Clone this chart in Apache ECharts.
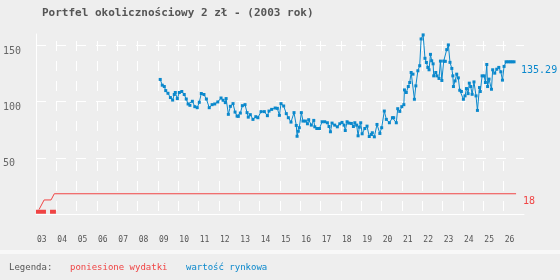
<!DOCTYPE html>
<html>
<head>
<meta charset="utf-8">
<script src="https://cdn.jsdelivr.net/npm/echarts@6/dist/echarts.min.js"></script>
<style>
  html, body { margin: 0; padding: 0; background: #eeeeee; }
  #chart { width: 560px; height: 280px; }
</style>
</head>
<body>
<div id="chart"></div>
<script>
// wartość rynkowa (odczyt z wykresu)
var marketYears = [
  2009.11, 2009.21, 2009.31, 2009.38, 2009.49, 2009.61, 2009.72, 2009.80, 2009.85, 2009.95,
  2010.05, 2010.17, 2010.29, 2010.39, 2010.48, 2010.57, 2010.69, 2010.81, 2010.93,
  2011.03, 2011.13, 2011.26, 2011.38, 2011.52, 2011.66, 2011.79, 2011.94,
  2012.10, 2012.20, 2012.31, 2012.35, 2012.46, 2012.56, 2012.69, 2012.79, 2012.89, 2012.95,
  2013.05, 2013.15, 2013.28, 2013.38, 2013.44, 2013.54, 2013.67, 2013.81, 2013.91,
  2014.07, 2014.23, 2014.38, 2014.46, 2014.59, 2014.76, 2014.87, 2014.97,
  2015.05, 2015.18, 2015.31, 2015.41, 2015.54, 2015.69, 2015.80, 2015.84, 2015.90, 2015.95,
  2016.05, 2016.13, 2016.25, 2016.35, 2016.41, 2016.54, 2016.66, 2016.71, 2016.81, 2016.94,
  2017.07, 2017.20, 2017.33, 2017.41, 2017.48, 2017.56, 2017.69, 2017.82, 2017.94,
  2018.05, 2018.15, 2018.21, 2018.30, 2018.38, 2018.51, 2018.61, 2018.68, 2018.77, 2018.84, 2018.90, 2018.97,
  2019.04, 2019.17, 2019.28, 2019.39, 2019.49, 2019.54, 2019.64, 2019.77, 2019.91,
  2020.00, 2020.13, 2020.23, 2020.38, 2020.53, 2020.59, 2020.72, 2020.79, 2020.89, 2020.99,
  2021.09, 2021.12, 2021.21, 2021.31, 2021.38, 2021.45, 2021.54, 2021.61, 2021.68, 2021.78, 2021.87, 2021.94,
  2022.04, 2022.13, 2022.20, 2022.27, 2022.33, 2022.40, 2022.46, 2022.53, 2022.56, 2022.66, 2022.72, 2022.82, 2022.89, 2022.96,
  2023.05, 2023.13, 2023.20, 2023.28, 2023.36, 2023.45, 2023.50, 2023.53, 2023.61, 2023.69, 2023.77, 2023.84, 2023.92,
  2024.02, 2024.10, 2024.17, 2024.25, 2024.31, 2024.38, 2024.45, 2024.54, 2024.64, 2024.71, 2024.81, 2024.85, 2024.94,
  2025.04, 2025.10, 2025.17, 2025.21, 2025.28, 2025.40, 2025.46, 2025.56, 2025.66, 2025.76, 2025.86, 2025.94,
  2026.02, 2026.12, 2026.22, 2026.32, 2026.41, 2026.51
];
var marketValues = [
  119.6, 114.5, 113.3, 109.7, 107.3, 103.5, 101.3, 106.2, 108, 102.6,
  108, 108.9, 106.2, 102.2, 97.8, 96.6, 100.2, 95.4, 94.5,
  99.3, 107.1, 106.2, 102.2, 94.5, 97.2, 97.8, 99.6,
  103.1, 101.1, 99, 102.6, 88.6, 95.7, 98.1, 90.6, 87, 86.8,
  89.7, 96.3, 97.2, 90.1, 86.1, 88.3, 84.1, 86.5, 85.6,
  91, 91, 87.4, 91.5, 93, 94.2, 93.9, 87.7,
  98.1, 96, 89.2, 85.6, 81.7, 90.1, 78.7, 69.1, 73.6, 76.7,
  90.1, 82.6, 82.6, 80.2, 83.8, 79, 83.2, 77.5, 76, 76,
  82, 82, 81.1, 77.8, 73.1, 80.8, 79, 77.5, 80.2,
  81.4, 79, 74.2, 82, 80.8, 80.5, 77.8, 81.1, 79, 69.5, 77.2, 81.1,
  71.3, 76, 78.1, 68.9, 70.7, 72.2, 68.6, 79.6, 71.6,
  76.7, 91.5, 84.1, 81.1, 85.6, 85.6, 81.1, 93.6, 91.2, 95.4,
  97.2, 110.3, 108, 113.3, 116.9, 125.8, 124.3, 102, 113.9, 127.3, 131.8, 155.6,
  159.2, 138.4, 134.7, 130.3, 128.2, 141.9, 136.2, 133.5, 122.8, 125.8, 122.8, 120.5, 135.9, 118.7,
  135.9, 135.7, 146.1, 150.3, 134.8, 129.4, 122.8, 113.3, 118.3, 124.3, 121, 110, 108.9,
  102, 105, 111.5, 107, 116.3, 113.3, 106.4, 117.4, 105, 92.1, 112.4, 108.9, 122.8,
  122.8, 116.9, 132.9, 113.3, 119.9, 110.9, 128.2, 125.2, 128.7, 130.3, 126.4, 119,
  131.2, 135.29, 135.29, 135.29, 135.29, 135.29
];

// poniesione wydatki
var costYears = [2003.15, 2003.40, 2003.74, 2003.90, 2026.61];
var costValues = [4, 12.5, 12.5, 18, 18];
var openingYears = [2003.0, 2003.49, null, 2003.69, 2003.98];
var openingValues = [2, 2, null, 2, 2];

var yearTicks = [];
for (var y = 2003; y <= 2026; y++) yearTicks.push(y);
var valueTicks = [50, 100, 150];

function pairs(xs, vs) {
  return xs.map(function (x, i) {
    return x === null ? ['-', '-'] : [x, vs[i]];
  });
}

var RED = '#f04444';
var BLUE = '#0a88cc';
var MONO = 'DejaVu Sans Mono';

var myChart = echarts.init(document.getElementById('chart'));
var option = {
  backgroundColor: '#eeeeee',
  animation: false,
  title: {
    text: 'Portfel okolicznościowy 2 zł - (2003 rok)',
    left: 42,
    top: 8,
    padding: 0,
    textStyle: { fontFamily: MONO, fontSize: 11, fontWeight: 'bold', color: '#555555' }
  },
  grid: { left: 36, right: 36, top: 34, bottom: 66 },
  xAxis: {
    type: 'value',
    min: 2003,
    max: 2027,
    interval: 1,
    axisLine: { lineStyle: { color: '#ffffff', width: 1 } },
    axisTick: { show: false, customValues: yearTicks },
    axisLabel: {
      customValues: yearTicks,
      formatter: function (v) { return String(v).slice(2); },
      align: 'left',
      padding: [0, 0, 0, 1],
      margin: 22,
      fontFamily: MONO,
      fontSize: 8,
      color: '#555555'
    },
    splitLine: { show: true, lineStyle: { color: '#ffffff', width: 1, type: [10, 10], dashOffset: 13 } }
  },
  yAxis: {
    type: 'value',
    min: 0,
    max: 160,
    interval: 50,
    axisLine: { show: true, lineStyle: { color: '#ffffff', width: 1 } },
    axisTick: { show: false, customValues: valueTicks },
    axisLabel: {
      customValues: valueTicks,
      align: 'left',
      verticalAlign: 'top',
      lineHeight: 12,
      margin: 33,
      fontFamily: MONO,
      fontSize: 10,
      color: '#666666'
    },
    splitLine: { show: true, lineStyle: { color: '#ffffff', width: 1, type: [10, 10] } }
  },
  series: [
    {
      name: 'poniesione wydatki',
      type: 'line',
      data: pairs(openingYears, openingValues),
      showSymbol: false,
      connectNulls: false,
      lineStyle: { color: RED, width: 4 },
      silent: true
    },
    {
      name: 'poniesione wydatki',
      type: 'line',
      data: pairs(costYears, costValues),
      showSymbol: false,
      lineStyle: { color: RED, width: 1 },
      endLabel: {
        show: true,
        distance: 7,
        offset: [0, 8],
        formatter: function (p) { return String(p.value[1]); },
        fontFamily: MONO,
        fontSize: 10,
        color: RED
      }
    },
    {
      name: 'wartość rynkowa',
      type: 'line',
      data: pairs(marketYears, marketValues),
      symbol: 'rect',
      symbolSize: 3,
      showAllSymbol: true,
      itemStyle: { color: BLUE },
      lineStyle: { color: BLUE, width: 1 },
      endLabel: {
        show: true,
        distance: 7,
        offset: [0, 9],
        formatter: function (p) { return p.value[1].toFixed(2); },
        fontFamily: MONO,
        fontSize: 10,
        color: BLUE
      }
    }
  ],
  graphic: [
    { type: 'rect', left: 0, top: 250, shape: { width: 560, height: 4 }, style: { fill: '#f8f8f8' }, silent: true },
    { type: 'text', left: 9, top: 263, style: { text: 'Legenda:', fill: '#555555', font: '9px "DejaVu Sans Mono"' } },
    { type: 'text', left: 70, top: 263, style: { text: 'poniesione wydatki', fill: RED, font: '9px "DejaVu Sans Mono"' } },
    { type: 'text', left: 186, top: 263, style: { text: 'wartość rynkowa', fill: BLUE, font: '9px "DejaVu Sans Mono"' } }
  ]
};

myChart.setOption(option);
</script>
</body>
</html>
